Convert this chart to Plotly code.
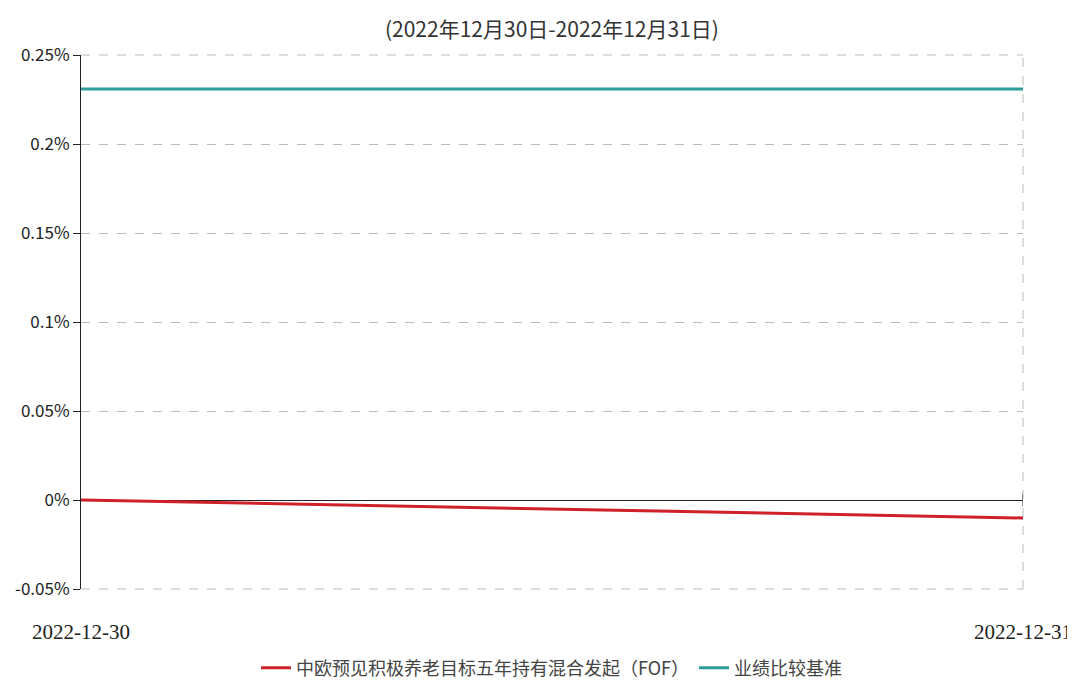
import plotly.graph_objects as go

dates = ["2022-12-30", "2022-12-31"]
fund_name = "中欧预见积极养老目标五年持有混合发起（FOF）"
bench_name = "业绩比较基准"
fund_values = [0.0, -0.0101]
bench_values = [0.2309, 0.2309]
y_ticks = [-0.05, 0, 0.05, 0.1, 0.15, 0.2, 0.25]
y_tick_labels = ["-0.05%", "0%", "0.05%", "0.1%", "0.15%", "0.2%", "0.25%"]
title_text = "(2022年12月30日-2022年12月31日)"

GRID = "#bbbbbb"

fig = go.Figure()
fig.add_trace(go.Scatter(x=dates, y=fund_values, mode="lines", name=fund_name,
                         line=dict(color="#d0202a", width=3)))
fig.add_trace(go.Scatter(x=dates, y=bench_values, mode="lines", name=bench_name,
                         line=dict(color="#2f9c9c", width=3)))

# small tick on zero axis at right end
fig.add_shape(type="line", xref="x", yref="y", x0=dates[-1], x1=dates[-1],
              y0=-0.0035, y1=0.0035, line=dict(color="#222", width=1))
# edge gridlines (top, bottom, right) that plotly omits at range edges
for (x0, y0, x1, y1) in [(0, 1, 1, 1), (0, 0, 1, 0), (1, 0, 1, 1)]:
    fig.add_shape(type="line", xref="paper", yref="paper", x0=x0, y0=y0, x1=x1, y1=y1,
                  line=dict(color=GRID, width=1, dash="dash"), layer="below")

fig.update_layout(
    width=1075, height=682,
    margin=dict(l=73, r=60, t=47, b=101, autoexpand=False),
    paper_bgcolor="white", plot_bgcolor="white",
    title=dict(text=title_text, x=0.506, xanchor="center", y=0.968, yanchor="middle",
               font=dict(family="Noto Sans CJK SC", size=21, color="#333")),
    showlegend=True,
    legend=dict(orientation="h", x=0.5, xanchor="center", y=-0.148, yanchor="middle",
                font=dict(family="Noto Sans CJK SC", size=18, color="#444"),
                tracegroupgap=0),
    xaxis=dict(type="date", range=[dates[0], dates[-1]], tickvals=dates, ticktext=dates,
               showline=False, ticks="", showgrid=False, zeroline=False, ticklabelstandoff=28,
               automargin=False,
               tickfont=dict(family="Liberation Serif", size=21, color="#222")),
    yaxis=dict(range=[-0.05, 0.25], tickvals=y_ticks, ticktext=y_tick_labels,
               showline=True, linecolor="#222", linewidth=1, ticks="outside", ticklen=7,
               tickcolor="#222", showgrid=True, gridcolor=GRID, griddash="dash",
               gridwidth=1, zeroline=True, zerolinecolor="#222", zerolinewidth=1,
               automargin=False,
               tickfont=dict(family="Noto Sans CJK SC", size=17, color="#222")),
)

fig.write_html("out.html")
